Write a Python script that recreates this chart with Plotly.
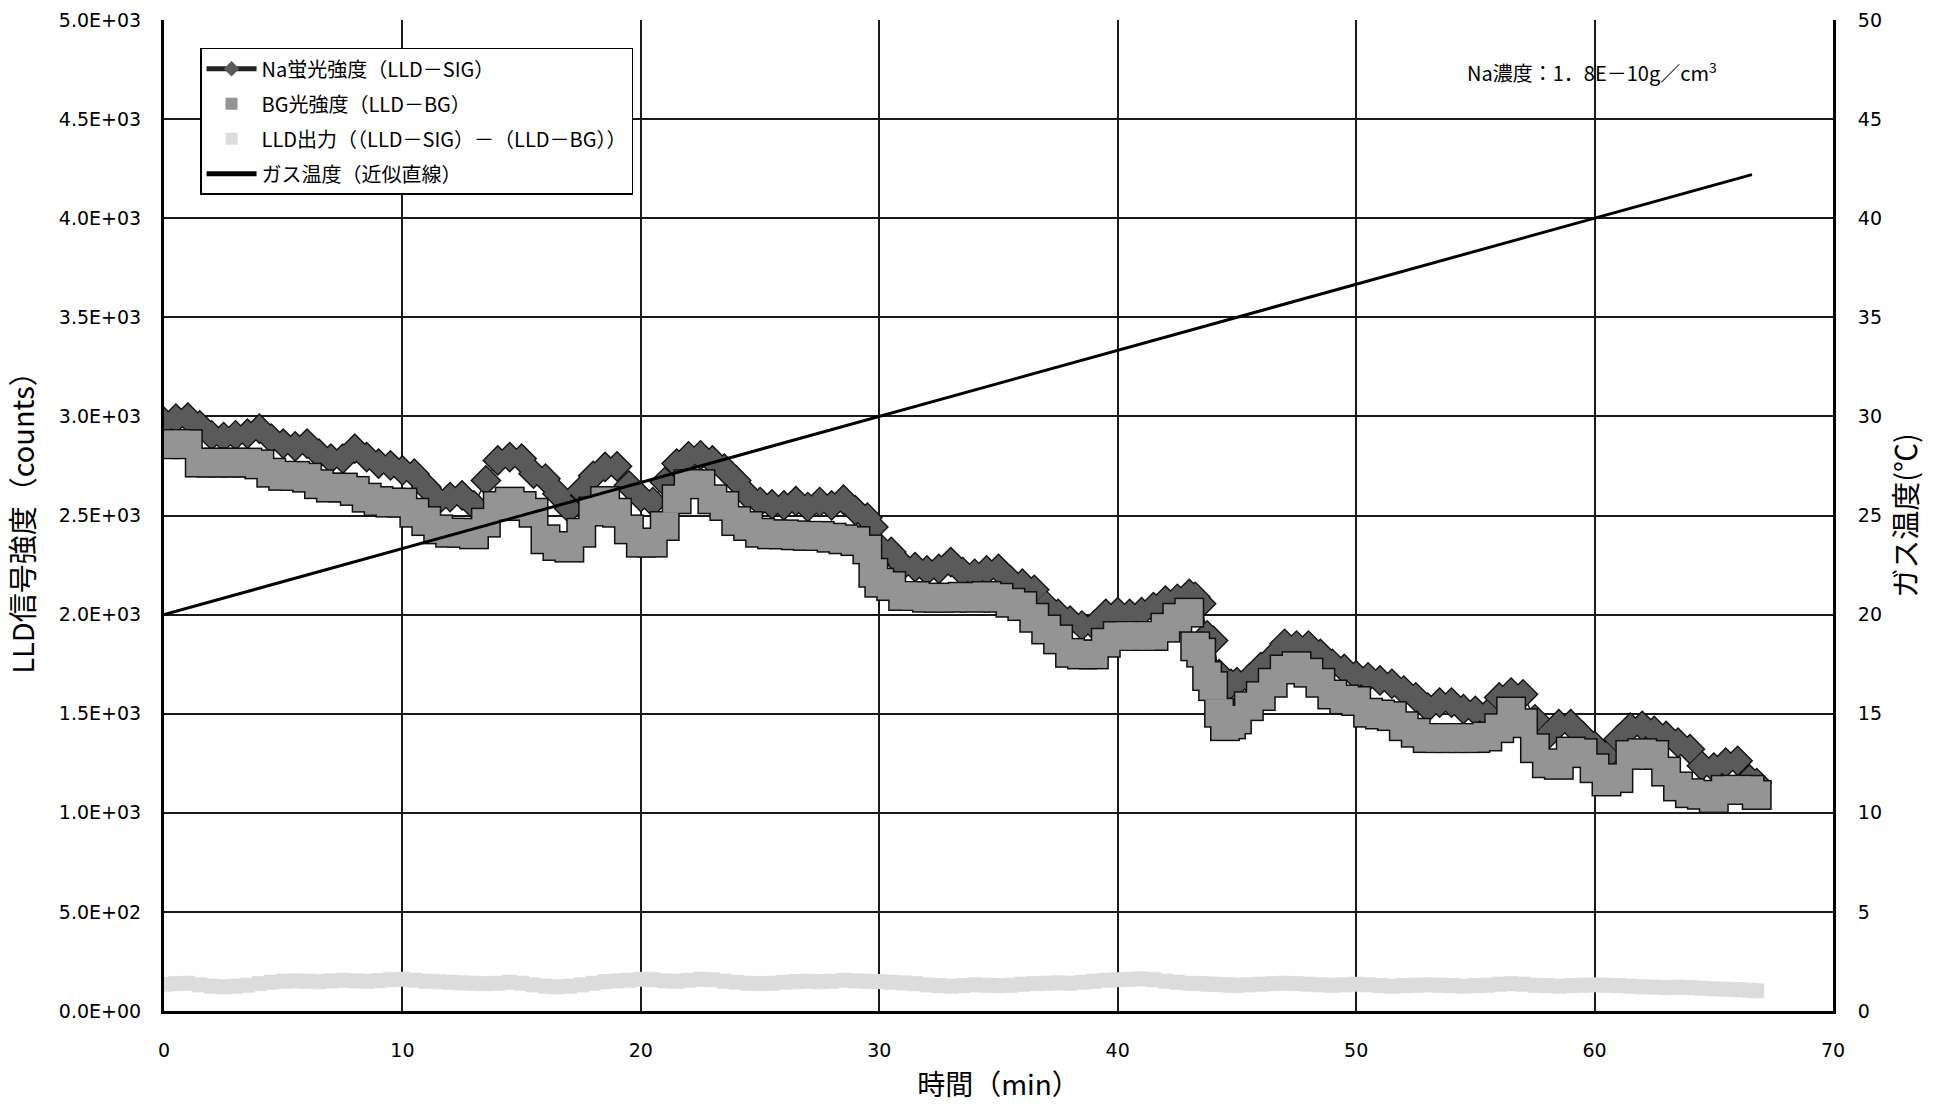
import plotly.graph_objects as go

# ---------------- data ----------------
TIME_GRID = [round(i * 0.5, 1) for i in range(134)] + [66.8]

NA_SIG = [
    2972, 2989, 2994, 2955, 2905, 2896, 2905, 2913, 2938, 2888,
    2863, 2849, 2863, 2812, 2787, 2787, 2837, 2795, 2762, 2753,
    2728, 2711, 2644, 2576, 2593, 2602, 2551, 2677, 2778, 2795,
    2787, 2711, 2686, 2610, 2534, 2627, 2700, 2745, 2748, 2652,
    2593, 2568, 2669, 2762, 2799, 2804, 2778, 2736, 2677, 2602,
    2568, 2556, 2551, 2573, 2543, 2568, 2551, 2580, 2526, 2489,
    2341, 2316, 2248, 2240, 2223, 2231, 2265, 2215, 2206, 2223,
    2231, 2173, 2156, 2125, 2046, 2004, 1970, 1945, 1945, 2004,
    2012, 2004, 2012, 2038, 2071, 2080, 2105, 2055, 1869, 1625,
    1659, 1676, 1735, 1785, 1853, 1844, 1844, 1802, 1752, 1726,
    1693, 1684, 1668, 1651, 1617, 1583, 1531, 1556, 1556, 1523,
    1514, 1498, 1582, 1607, 1598, 1472, 1388, 1447, 1447, 1388,
    1338, 1287, 1371, 1430, 1439, 1413, 1388, 1354, 1321, 1237,
    1228, 1253, 1262, 1169, 1150,
]

BG_SIG = [
    2860, 2860, 2860, 2767, 2767, 2767, 2767, 2767, 2758, 2716,
    2700, 2700, 2691, 2658, 2641, 2641, 2624, 2590, 2573, 2565,
    2565, 2514, 2472, 2430, 2413, 2413, 2405, 2464, 2548, 2570,
    2548, 2514, 2380, 2346, 2338, 2413, 2520, 2573, 2514, 2430,
    2363, 2363, 2447, 2582, 2658, 2658, 2582, 2548, 2472, 2447,
    2413, 2405, 2405, 2400, 2397, 2397, 2388, 2380, 2371, 2329,
    2161, 2144, 2094, 2094, 2085, 2085, 2085, 2090, 2085, 2094,
    2085, 2060, 2043, 1984, 1925, 1875, 1807, 1799, 1799, 1858,
    1892, 1892, 1892, 1892, 1934, 1984, 2010, 1808, 1639, 1437,
    1471, 1538, 1589, 1656, 1723, 1740, 1707, 1656, 1597, 1572,
    1564, 1505, 1496, 1488, 1437, 1404, 1377, 1377, 1377, 1377,
    1377, 1385, 1427, 1511, 1452, 1326, 1250, 1242, 1309, 1301,
    1225, 1158, 1175, 1292, 1301, 1292, 1208, 1133, 1099, 1091,
    1074, 1116, 1116, 1116, 1090,
]

LLD_OUT = [
    135, 138, 140, 132, 125, 122, 125, 130, 138, 145,
    150, 152, 150, 148, 152, 155, 152, 150, 153, 158,
    160, 155, 150, 148, 145, 142, 140, 138, 140, 145,
    140, 132, 125, 122, 125, 132, 140, 148, 152, 155,
    160, 158, 152, 150, 155, 160, 158, 150, 145, 140,
    138, 140, 145, 148, 150, 148, 150, 155, 152, 150,
    148, 145, 142, 138, 132, 128, 125, 128, 132, 130,
    128, 130, 135, 138, 140, 142, 140, 145, 150, 155,
    158, 160, 162, 158, 150, 145, 140, 138, 135, 132,
    130, 132, 135, 138, 140, 138, 135, 132, 130, 132,
    135, 132, 128, 125, 128, 130, 132, 130, 128, 125,
    128, 130, 135, 138, 135, 130, 128, 125, 128, 130,
    132, 130, 128, 125, 122, 120, 118, 120, 118, 115,
    112, 110, 108, 105, 102,
]

# extra readings taken at the steep drops
TIME_EXTRA = [29.75, 43.25, 43.75, 44.25, 44.75]
NA_SIG_EXTRA = [2442, 2090, 1895, 1700, 1650]
BG_SIG_EXTRA = [2211, 1840, 1690, 1505, 1446]
LLD_OUT_EXTRA = [149, 139, 136, 134, 131]

TEMP_TIME = [0, 66.6]
TEMP_C = [20.0, 42.2]

X_TICKS = [0, 10, 20, 30, 40, 50, 60, 70]
Y_TICKS = [0, 500, 1000, 1500, 2000, 2500, 3000, 3500, 4000, 4500, 5000]
Y_TICK_TEXT = ["0.0E+00", "5.0E+02", "1.0E+03", "1.5E+03", "2.0E+03", "2.5E+03",
               "3.0E+03", "3.5E+03", "4.0E+03", "4.5E+03", "5.0E+03"]
Y2_TICKS = [0, 5, 10, 15, 20, 25, 30, 35, 40, 45, 50]

NAME_SIG = "Na蛍光強度（LLD－SIG）"
NAME_BG = "BG光強度（LLD－BG）"
NAME_LLD = "LLD出力（（LLD－SIG）－（LLD－BG））"
NAME_TEMP = "ガス温度（近似直線）"

CJK = "Noto Sans CJK JP"
NUM = "DejaVu Sans"

# merge the regular readings with the extra ones, ordered by time
rows = sorted(zip(TIME_GRID + TIME_EXTRA, NA_SIG + NA_SIG_EXTRA,
                  BG_SIG + BG_SIG_EXTRA, LLD_OUT + LLD_OUT_EXTRA))
t_all = [r[0] for r in rows]
sig_all = [r[1] for r in rows]
bg_all = [r[2] for r in rows]
lld_all = [r[3] for r in rows]

fig = go.Figure()

# Na signal: black halo, then grey diamonds with line
fig.add_trace(go.Scatter(x=t_all, y=sig_all, mode="markers", showlegend=False,
                         hoverinfo="skip", legendgroup="g1",
                         marker=dict(symbol="diamond", size=24, color="#111111",
                                     line=dict(width=0))))
fig.add_trace(go.Scatter(x=t_all, y=sig_all, mode="lines+markers", name=NAME_SIG,
                         legendgroup="g1",
                         line=dict(color="#222222", width=1.5),
                         marker=dict(symbol="diamond", size=21, color="#5a5a5a",
                                     line=dict(width=0))))
# BG: black halo, then lighter squares
fig.add_trace(go.Scatter(x=t_all, y=bg_all, mode="markers", showlegend=False,
                         hoverinfo="skip", legendgroup="g2",
                         marker=dict(symbol="square", size=30, color="#111111",
                                     line=dict(width=0))))
fig.add_trace(go.Scatter(x=t_all, y=bg_all, mode="markers", name=NAME_BG,
                         legendgroup="g2",
                         marker=dict(symbol="square", size=27, color="#949494",
                                     line=dict(width=0))))
# LLD output
fig.add_trace(go.Scatter(x=t_all, y=lld_all, mode="markers", name=NAME_LLD,
                         legendgroup="g3",
                         marker=dict(symbol="square", size=15, color="#dcdcdc",
                                     line=dict(width=0))))
# Gas temperature (fit line) on right axis
fig.add_trace(go.Scatter(x=TEMP_TIME, y=TEMP_C, mode="lines", name=NAME_TEMP,
                         legendgroup="g4", yaxis="y2",
                         line=dict(color="black", width=3)))

fig.add_annotation(x=0.8556, y=0.9475, xref="paper", yref="paper",
                   text="Na濃度：1．8E－10g／cm<sup>3</sup>", showarrow=False,
                   font=dict(family=CJK, size=20, color="black"),
                   xanchor="center", yanchor="middle")

fig.update_layout(
    template="none",
    width=1940, height=1107,
    margin=dict(l=164, r=107, t=20, b=96, autoexpand=False),
    paper_bgcolor="white", plot_bgcolor="white",
    font=dict(family=CJK, color="black"),
    showlegend=True,
    legend=dict(x=0.0216, y=0.972, xanchor="left", yanchor="top",
                bgcolor="white", bordercolor="black", borderwidth=1.5,
                font=dict(family=CJK, size=20, color="black"),
                itemsizing="constant", itemwidth=50, tracegroupgap=6,
                traceorder="grouped"),
    xaxis=dict(range=[0, 70], tickvals=X_TICKS, showgrid=True,
               gridcolor="#1a1a1a", gridwidth=1.5, showline=True, linewidth=3,
               linecolor="black", zeroline=False, ticks="", automargin=False,
               ticklabelstandoff=20,
               tickfont=dict(family=NUM, size=19, color="black"),
               title=dict(text="時間（min）", standoff=16,
                          font=dict(family=CJK, size=28, color="black"))),
    yaxis=dict(range=[0, 5000], tickvals=Y_TICKS, ticktext=Y_TICK_TEXT,
               showgrid=True, gridcolor="#1a1a1a", gridwidth=1.5,
               showline=True, linewidth=3, linecolor="black", zeroline=False,
               ticks="", automargin=False, ticklabelstandoff=16,
               tickfont=dict(family=NUM, size=19, color="black"),
               title=dict(text="LLD信号強度（counts）", standoff=16,
                          font=dict(family=CJK, size=29, color="black"))),
    yaxis2=dict(range=[0, 50], tickvals=Y2_TICKS, overlaying="y", side="right",
                showgrid=False, showline=True, linewidth=3, linecolor="black",
                zeroline=False, ticks="", automargin=False, ticklabelstandoff=18,
                tickfont=dict(family=NUM, size=19, color="black"),
                title=dict(text="ガス温度(℃)", standoff=16,
                           font=dict(family=CJK, size=29, color="black"))),
)

fig.write_html("out.html")
